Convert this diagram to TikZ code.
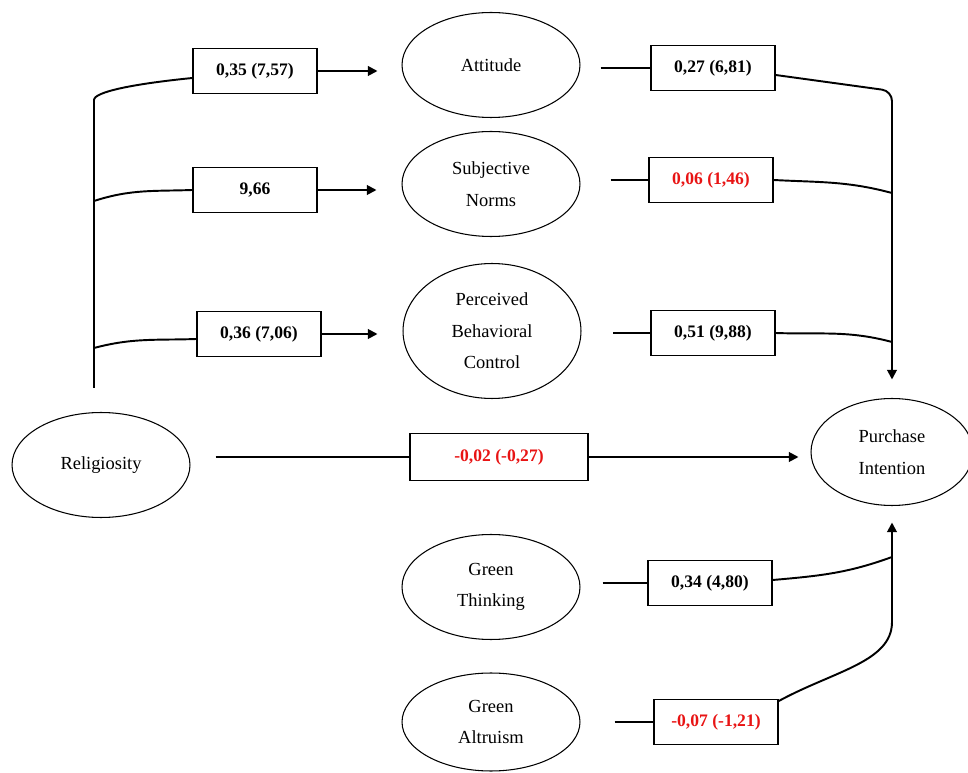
\documentclass[tikz,border=0pt]{standalone}
\usepackage{fontspec}
\setmainfont{Liberation Serif}
\usetikzlibrary{arrows.meta,shapes.geometric}
\definecolor{sigred}{RGB}{232,20,20}

\begin{document}
\begin{tikzpicture}[x=0.02cm, y=0.02cm,
  construct/.style={ellipse, draw, line width=0.6pt, minimum width=3.56cm, minimum height=2.1cm,
    inner sep=0pt, align=center, font=\fontsize{10.5}{18}\selectfont},
  coef/.style={rectangle, draw, line width=0.8pt, minimum width=2.48cm, minimum height=0.89cm,
    inner sep=2pt, font=\fontsize{10}{12}\selectfont\bfseries},
  link/.style={line width=1.1pt},
  arrowed/.style={-{Triangle[length=1.9mm,width=1.9mm]}}]
\useasboundingbox (0,0) rectangle (968,772);
% constructs
\node[construct] (att) at (491,707) {Attitude};
\node[construct] (sn) at (491,588) {Subjective\\Norms};
\node[construct, minimum height=2.7cm] (pbc) at (492,441) {Perceived\\Behavioral\\Control};
\node[construct] (rel) at (101,307) {Religiosity};
\node[construct, minimum width=3.24cm, minimum height=2.14cm] (pi) at (892,320) {Purchase\\Intention};
\node[construct] (gt) at (491,185) {Green\\Thinking};
\node[construct, minimum height=1.96cm] (ga) at (491,50) {Green\\Altruism};
% path coefficients
\node[coef] (relatt) at (255,701) {0,35 (7,57)};
\node[coef] (relsn) at (255,582) {9,66};
\node[coef] (relpbc) at (259,438) {0,36 (7,06)};
\node[coef] (attpi) at (713,704) {0,27 (6,81)};
\node[coef, text=sigred] (snpi) at (711,592) {0,06 (1,46)};
\node[coef] (pbcpi) at (713,439) {0,51 (9,88)};
\node[coef, text=sigred, minimum width=3.56cm, minimum height=0.94cm] (relpi) at (499,315) {-0,02 (-0,27)};
\node[coef] (gtpi) at (710,189) {0,34 (4,80)};
\node[coef, text=sigred] (gapi) at (716,50) {-0,07 (-1,21)};
% trunk points
\coordinate (lbot) at (94,384);
\coordinate (ltop) at (94,672);
\coordinate (jsn) at (94,571);
\coordinate (jpbc) at (94,424);
\coordinate (rtop) at (892,681);
\coordinate (jsnr) at (892,579);
\coordinate (jpbcr) at (892,430);
\coordinate (jgt) at (892,215);
\coordinate (rbot) at (892,150);
% religiosity -> TPB constructs
\draw[link] (lbot) -- (ltop) .. controls +(0,8) and +(-60,-6) .. ([yshift=-0.14cm]relatt.west);
\draw[link] (jsn) to[out=18,in=182] (relsn.west);
\draw[link] (jpbc) to[out=15,in=182] ([yshift=-0.1cm]relpbc.west);
\draw[link, arrowed, shorten >=0.48cm] (relatt.east) -- (relatt.east -| att.west);
\draw[link, arrowed, shorten >=0.5cm] (relsn.east) -- (relsn.east -| sn.west);
\draw[link, arrowed, shorten >=0.5cm] (relpbc.east) -- (relpbc.east -| pbc.west);
% TPB constructs -> purchase intention
\draw[link, shorten <=0.4cm] (att.east |- attpi) -- (attpi.west);
\draw[link, shorten <=0.6cm] (sn.east |- snpi) -- (snpi.west);
\draw[link, shorten <=0.63cm] (pbc.east |- pbcpi) -- (pbcpi.west);
\draw[link, arrowed, rounded corners=0.2cm, shorten >=0.37cm] ([yshift=-0.14cm]attpi.east) -- (rtop) -- (pi.north);
\draw[link] (snpi.east) to[out=-3,in=165] (jsnr);
\draw[link] (pbcpi.east) to[out=-2,in=165] (jpbcr);
% direct path
\draw[link, shorten <=0.5cm] (rel.east |- relpi) -- (relpi.west);
\draw[link, arrowed, shorten >=0.24cm] (relpi.east) -- (relpi.east -| pi.west);
% green constructs -> purchase intention
\draw[link, shorten <=0.44cm] (gt.east |- gtpi) -- (gtpi.west);
\draw[link, shorten <=0.68cm] (ga.east |- gapi) -- (gapi.west);
\draw[link] ([yshift=0.06cm]gtpi.east) to[out=5,in=200] (jgt);
\draw[link, arrowed, shorten >=0.33cm] ([yshift=-0.04cm]gapi.north east) .. controls +(55,30) and +(0,-40) .. (rbot) -- (pi.south);
\end{tikzpicture}
\end{document}
